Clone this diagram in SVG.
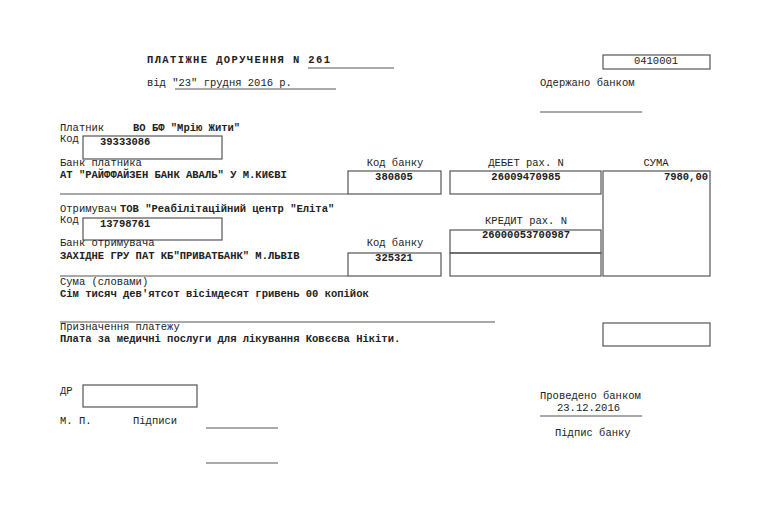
<svg xmlns="http://www.w3.org/2000/svg" width="768" height="516" viewBox="0 0 768 516">
<style>
text{font-family:"Liberation Mono","DejaVu Sans Mono",monospace;font-size:10.5px;fill:#222}
.b{font-weight:bold}
.c{text-anchor:middle}
.r{text-anchor:end}
rect{fill:none;stroke:#555;stroke-width:1.2}
line{stroke:#555;stroke-width:1.2}
</style>
<rect x="0" y="0" width="768" height="516" style="fill:#fff;stroke:none"/>
<text x="147" y="63" class="b" textLength="183">ПЛАТІЖНЕ ДОРУЧЕННЯ N 261</text>
<line x1="308" y1="68" x2="394" y2="68"/>
<text x="147" y="86">від "23" грудня 2016 р.</text>
<line x1="175" y1="89" x2="336" y2="89"/>
<rect x="603" y="55" width="107" height="14"/>
<text x="656" y="64" class="c">0410001</text>
<text x="540" y="86">Одержано банком</text>
<line x1="540" y1="112" x2="642" y2="112"/>
<text x="60" y="131">Платник</text>
<text x="133" y="131" class="b">ВО БФ "Мрію Жити"</text>
<text x="60" y="142">Код</text>
<rect x="83" y="136" width="139" height="23"/>
<text x="100" y="145" class="b">39333086</text>
<text x="60" y="166">Банк платника</text>
<text x="60" y="178" class="b">АТ "РАЙФФАЙЗЕН БАНК АВАЛЬ"  У  М.КИЄВІ</text>
<text x="395" y="166" class="c">Код банку</text>
<rect x="348" y="171" width="93" height="23"/>
<text x="394" y="180" class="c b">380805</text>
<text x="526" y="166" class="c">ДЕБЕТ рах. N</text>
<rect x="450" y="171" width="151" height="23"/>
<text x="526" y="180" class="c b">26009470985</text>
<text x="656" y="166" class="c">СУМА</text>
<rect x="603" y="171" width="107" height="105"/>
<text x="708" y="180" class="r b">7980,00</text>
<line x1="60" y1="194" x2="348" y2="194"/>
<text x="60" y="212">Отримувач</text>
<text x="120" y="212" class="b">ТОВ "Реабілітаційний центр "Еліта"</text>
<text x="60" y="223">Код</text>
<rect x="83" y="218" width="139" height="22"/>
<text x="100" y="227" class="b">13798761</text>
<text x="526" y="224" class="c">КРЕДИТ рах. N</text>
<rect x="450" y="230" width="151" height="23"/>
<text x="526" y="238" class="c b">26000053700987</text>
<rect x="450" y="253" width="151" height="23"/>
<text x="60" y="246">Банк отримувача</text>
<text x="395" y="246" class="c">Код банку</text>
<rect x="348" y="253" width="93" height="23"/>
<text x="394" y="261" class="c b">325321</text>
<text x="60" y="259" class="b">ЗАХІДНЕ ГРУ ПАТ КБ"ПРИВАТБАНК" М.ЛЬВІВ</text>
<line x1="60" y1="276" x2="348" y2="276"/>
<text x="60" y="285">Сума (словами)</text>
<text x="60" y="297" class="b">Сім тисяч дев'ятсот вісімдесят гривень 00 копійок</text>
<line x1="60" y1="322" x2="495" y2="322"/>
<text x="60" y="330">Призначення платежу</text>
<text x="60" y="342" class="b">Плата за медичні послуги для лікування Ковєєва Нікіти.</text>
<rect x="603" y="323" width="107" height="23"/>
<text x="60" y="394">ДР</text>
<rect x="83" y="385" width="114" height="22"/>
<text x="60" y="424">М. П.</text>
<text x="133" y="424">Підписи</text>
<line x1="206" y1="428" x2="278" y2="428"/>
<line x1="206" y1="463" x2="278" y2="463"/>
<text x="540" y="399">Проведено банком</text>
<text x="557" y="411">23.12.2016</text>
<line x1="540" y1="416" x2="642" y2="416"/>
<text x="555" y="436">Підпис банку</text>
</svg>
